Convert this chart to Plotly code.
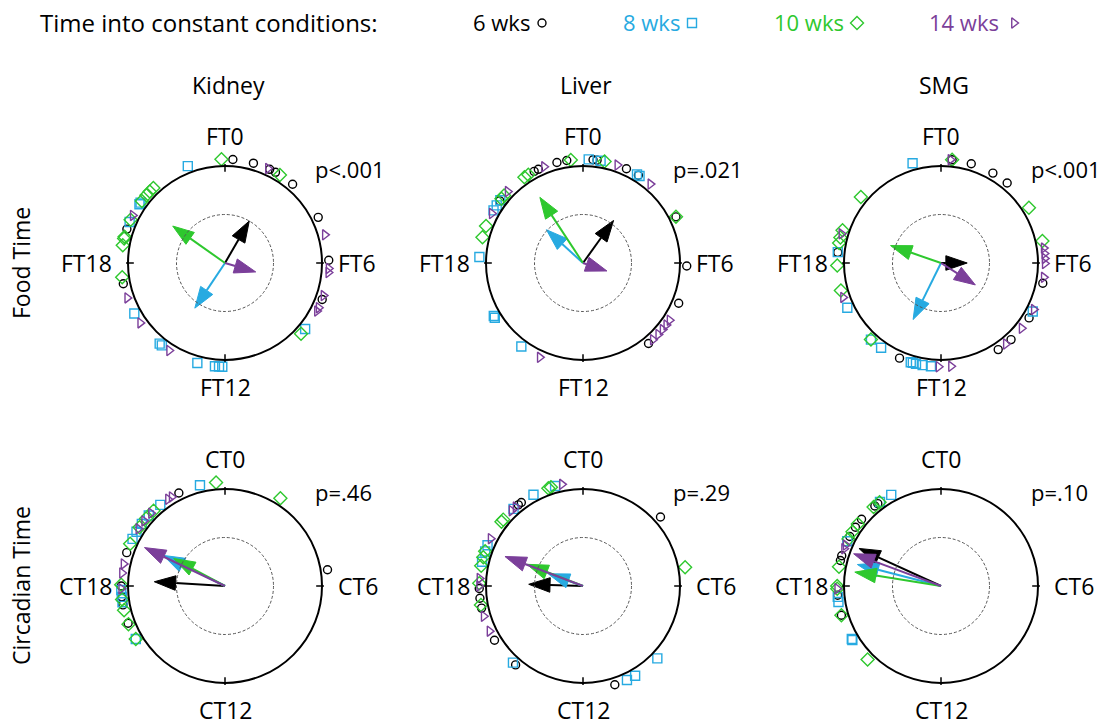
import numpy as np
import plotly.graph_objects as go

W, H = 1102, 725
FONT = "Open Sans"
FS = 22        # p-values, legend entries
FS_AX = 23     # hour labels, tissue / row titles
FS_HEAD = 24   # header

GROUPS = ["6 wks", "8 wks", "10 wks", "14 wks"]
COLORS = ["#000000", "#27aae1", "#2ec82e", "#7b3f9a"]
SYMBOLS = ["circle-open", "square-open", "diamond-open", "triangle-right-open"]
MSIZE = [8, 9, 10, 9]

TISSUES = ["Kidney", "Liver", "SMG"]
ROWS = ["Food Time", "Circadian Time"]
PREFIX = ["FT", "CT"]
TICK_HOURS = [0, 6, 12, 18]

# ---- individual animal phases (hours), order: 6, 8, 10, 14 wks ----
kidney_ft = [
    [0.29, 1.06, 1.7, 1.94, 2.71, 4.26, 5.9, 7.37, 17.23, 19.27],
    [22.6, 20.37, 20.3, 19.55, 16.06, 14.5, 14.6, 13.03, 12.37, 12.22, 12.1, 8.63],
    [23.87, 2.13, 8.86, 17.47, 18.66, 18.91, 18.98, 19.64, 20.45, 20.72, 20.9, 21.09],
    [1.63, 4.95, 6.2, 6.35, 7.22, 7.7, 7.84, 14.17, 15.65, 16.69, 19.82],
]
liver_ft = [
    [0.37, 0.52, 1.65, 2.15, 4.24, 6.11, 7.52, 9.39, 20.45, 22.13, 22.3, 23.03, 23.4],
    [0.21, 0.65, 2.09, 2.2, 14.43, 15.88, 15.95, 18.22, 20.03, 20.25, 20.48],
    [0.8, 4.24, 18.96, 19.39, 20.55, 20.7, 21.71, 21.88, 23.55],
    [1.29, 2.7, 8.23, 8.44, 8.66, 8.9, 9.18, 13.64, 19.9, 20.9, 22.53],
]
smg_ft = [
    [0.41, 1.13, 2.0, 2.64, 6.75, 8.13, 9.17, 9.77, 13.57, 18.39],
    [22.94, 7.86, 12.37, 12.68, 12.93, 13.05, 13.13, 14.35, 14.83, 16.3, 18.4],
    [0.41, 3.86, 5.18, 14.83, 16.98, 17.91, 18.74, 18.95, 19.23, 20.63],
    [0.35, 5.45, 5.65, 5.83, 6.02, 6.53, 7.77, 8.6, 9.42, 11.63, 12.09, 16.71, 19.09],
]
kidney_ct = [
    [22.24, 5.4, 19.25, 18.0, 17.6, 17.3, 16.6],
    [23.07, 21.43, 20.85, 20.45, 20.1, 19.8, 17.85, 17.6, 17.4, 15.95],
    [23.67, 2.15, 21.1, 20.7, 20.3, 19.6, 18.05, 17.5, 17.1, 16.56, 15.95],
    [21.94, 21.78, 20.97, 20.59, 20.23, 18.82, 18.48, 17.9],
]
liver_ct = [
    [21.57, 21.43, 3.22, 17.91, 17.55, 17.18, 15.9, 14.7, 10.81],
    [22.96, 22.1, 21.2, 19.54, 19.3, 18.9, 14.83, 10.33, 9.99, 8.95],
    [22.7, 22.8, 20.65, 20.55, 19.3, 19.07, 18.75, 18.1, 17.3, 5.31],
    [23.22, 21.3, 21.1, 19.81, 18.28, 18.0, 16.87, 16.28],
]
smg_ct = [
    [21.36, 21.5, 20.67, 20.3, 19.9, 19.13, 18.95, 17.66, 16.91],
    [22.09, 21.6, 19.7, 17.41, 17.6, 15.91, 15.95],
    [21.58, 21.3, 20.45, 20.1, 19.8, 18.71, 18.0, 17.9, 16.91, 15.0],
    [19.55, 19.4, 17.9],
]

# ---- mean vectors: phase (hours) and length (fraction of circle radius) ----
kidney_ft_phase = [2.0, 14.25, 20.35, 7.08]
kidney_ft_len = [0.50, 0.56, 0.66, 0.33]
liver_ft_phase = [2.38, 20.82, 21.78, 7.23]
liver_ft_len = [0.54, 0.51, 0.81, 0.26]
smg_ft_phase = [6.0, 13.75, 19.27, 8.17]
smg_ft_len = [0.27, 0.65, 0.55, 0.42]
kidney_ct_phase = [18.23, 19.76, 19.88, 19.7]
kidney_ct_len = [0.73, 0.71, 0.60, 0.92]
liver_ct_phase = [18.12, 19.29, 19.41, 19.38]
liver_ct_len = [0.56, 0.38, 0.62, 0.86]
smg_ct_phase = [19.64, 18.96, 18.61, 19.35]
smg_ct_len = [0.93, 0.89, 0.90, 0.96]

p_values = [["p<.001", "p=.021", "p<.001"], ["p=.46", "p=.29", "p=.10"]]

panel_points = [[kidney_ft, liver_ft, smg_ft], [kidney_ct, liver_ct, smg_ct]]
panel_phase = [[kidney_ft_phase, liver_ft_phase, smg_ft_phase],
               [kidney_ct_phase, liver_ct_phase, smg_ct_phase]]
panel_len = [[kidney_ft_len, liver_ft_len, smg_ft_len],
             [kidney_ct_len, liver_ct_len, smg_ct_len]]

# ---- layout geometry (pixels) ----
R_PX = 97
CX = [225, 583, 941]
CY = [263, 586]
HALF = 1.4
R_MARK = 1.07
HEAD_L = 0.22
HEAD_W = 0.075


def xy(hours, r):
    th = np.asarray(hours, dtype=float) / 24.0 * 2 * np.pi
    r = np.asarray(r, dtype=float)
    return r * np.sin(th), r * np.cos(th)


fig = go.Figure()
layout_axes = {}
shapes = []
annotations = []

k = 0
for ri in range(2):
    for ci in range(3):
        k += 1
        xa = "x" if k == 1 else f"x{k}"
        ya = "y" if k == 1 else f"y{k}"
        xkey = "xaxis" if k == 1 else f"xaxis{k}"
        ykey = "yaxis" if k == 1 else f"yaxis{k}"
        cx, cy = CX[ci], CY[ri]
        layout_axes[xkey] = dict(domain=[(cx - HALF * R_PX) / W, (cx + HALF * R_PX) / W],
                                 range=[-HALF, HALF], visible=False, fixedrange=True)
        layout_axes[ykey] = dict(domain=[1 - (cy + HALF * R_PX) / H, 1 - (cy - HALF * R_PX) / H],
                                 range=[-HALF, HALF], visible=False, fixedrange=True)
        # circles
        shapes.append(dict(type="circle", xref=xa, yref=ya, x0=-1, y0=-1, x1=1, y1=1,
                           line=dict(color="black", width=2)))
        shapes.append(dict(type="circle", xref=xa, yref=ya, x0=-0.5, y0=-0.5, x1=0.5, y1=0.5,
                           line=dict(color="#555555", width=1, dash="3px,2px")))
        for th in TICK_HOURS:
            (x0,), (y0,) = xy([th], [0.94])
            (x1,), (y1,) = xy([th], [1.02])
            shapes.append(dict(type="line", xref=xa, yref=ya, x0=x0, y0=y0, x1=x1, y1=y1,
                               line=dict(color="black", width=1.5)))
        # markers
        for gi in range(4):
            hrs = panel_points[ri][ci][gi]
            px, py = xy(hrs, [R_MARK] * len(hrs))
            fig.add_trace(go.Scatter(x=px, y=py, mode="markers", xaxis=xa, yaxis=ya,
                                     marker=dict(symbol=SYMBOLS[gi], size=MSIZE[gi], color=COLORS[gi],
                                                 line=dict(width=1.4, color=COLORS[gi])),
                                     cliponaxis=False, showlegend=False, hoverinfo="skip"))
        # mean vectors
        for gi in range(4):
            h = panel_phase[ri][ci][gi]
            L = panel_len[ri][ci][gi]
            th = h / 24.0 * 2 * np.pi
            ux, uy = np.sin(th), np.cos(th)
            px_, py_ = -uy, ux
            bx, by = (L - HEAD_L) * ux, (L - HEAD_L) * uy
            tx, ty = L * ux, L * uy
            fig.add_trace(go.Scatter(x=[0, bx], y=[0, by], mode="lines", xaxis=xa, yaxis=ya,
                                     line=dict(color=COLORS[gi], width=2),
                                     showlegend=False, hoverinfo="skip"))
            fig.add_trace(go.Scatter(x=[tx, bx + HEAD_W * px_, bx - HEAD_W * px_, tx],
                                     y=[ty, by + HEAD_W * py_, by - HEAD_W * py_, ty],
                                     mode="lines", fill="toself", fillcolor=COLORS[gi],
                                     line=dict(color=COLORS[gi], width=1), xaxis=xa, yaxis=ya,
                                     showlegend=False, hoverinfo="skip"))
        # hour labels
        pre = PREFIX[ri]
        tf = dict(family=FONT, size=FS_AX, color="black")
        pf = dict(family=FONT, size=FS, color="black")
        annotations += [
            dict(x=0, y=1.31, xref=xa, yref=ya, text=f"{pre}0", showarrow=False, font=tf),
            dict(x=0, y=-1.28, xref=xa, yref=ya, text=f"{pre}12", showarrow=False, font=tf),
            dict(x=1.14, y=0, xref=xa, yref=ya, text=f"{pre}6", showarrow=False, font=tf,
                 xanchor="left"),
            dict(x=-1.14, y=0, xref=xa, yref=ya, text=f"{pre}18", showarrow=False, font=tf,
                 xanchor="right"),
            dict(x=0.91, y=0.97, xref=xa, yref=ya, text=p_values[ri][ci], showarrow=False,
                 font=pf, xanchor="left"),
        ]

# pixel-space helper axis for header / titles
layout_axes["xaxis7"] = dict(domain=[0, 1], range=[0, W], visible=False, fixedrange=True)
layout_axes["yaxis7"] = dict(domain=[0, 1], range=[H, 0], visible=False, fixedrange=True)

annotations.append(dict(x=38, y=22, xref="x7", yref="y7", text="Time into constant conditions:",
                        showarrow=False, xanchor="left",
                        font=dict(family=FONT, size=FS_HEAD, color="black")))
LEG_TEXT_RIGHT = [532, 682, 846, 1001]
LEG_MARK_X = [542, 692, 857, 1014]
for gi in range(4):
    annotations.append(dict(x=LEG_TEXT_RIGHT[gi], y=22, xref="x7", yref="y7", text=GROUPS[gi],
                            showarrow=False, xanchor="right",
                            font=dict(family=FONT, size=FS, color=COLORS[gi])))
    fig.add_trace(go.Scatter(x=[LEG_MARK_X[gi]], y=[23], xaxis="x7", yaxis="y7", mode="markers",
                             marker=dict(symbol=SYMBOLS[gi], size=MSIZE[gi], color=COLORS[gi],
                                         line=dict(width=1.4, color=COLORS[gi])),
                             cliponaxis=False, showlegend=False, hoverinfo="skip"))
tf = dict(family=FONT, size=FS_AX, color="black")
for ci in range(3):
    annotations.append(dict(x=CX[ci] + 3, y=85, xref="x7", yref="y7", text=TISSUES[ci],
                            showarrow=False, font=tf))
for ri in range(2):
    annotations.append(dict(x=21, y=CY[ri], xref="x7", yref="y7", text=ROWS[ri],
                            showarrow=False, textangle=-90, font=tf))

fig.update_layout(width=W, height=H, margin=dict(l=0, r=0, t=0, b=0),
                  paper_bgcolor="white", plot_bgcolor="rgba(0,0,0,0)",
                  shapes=shapes, annotations=annotations, showlegend=False,
                  **layout_axes)
fig.write_html("out.html")
